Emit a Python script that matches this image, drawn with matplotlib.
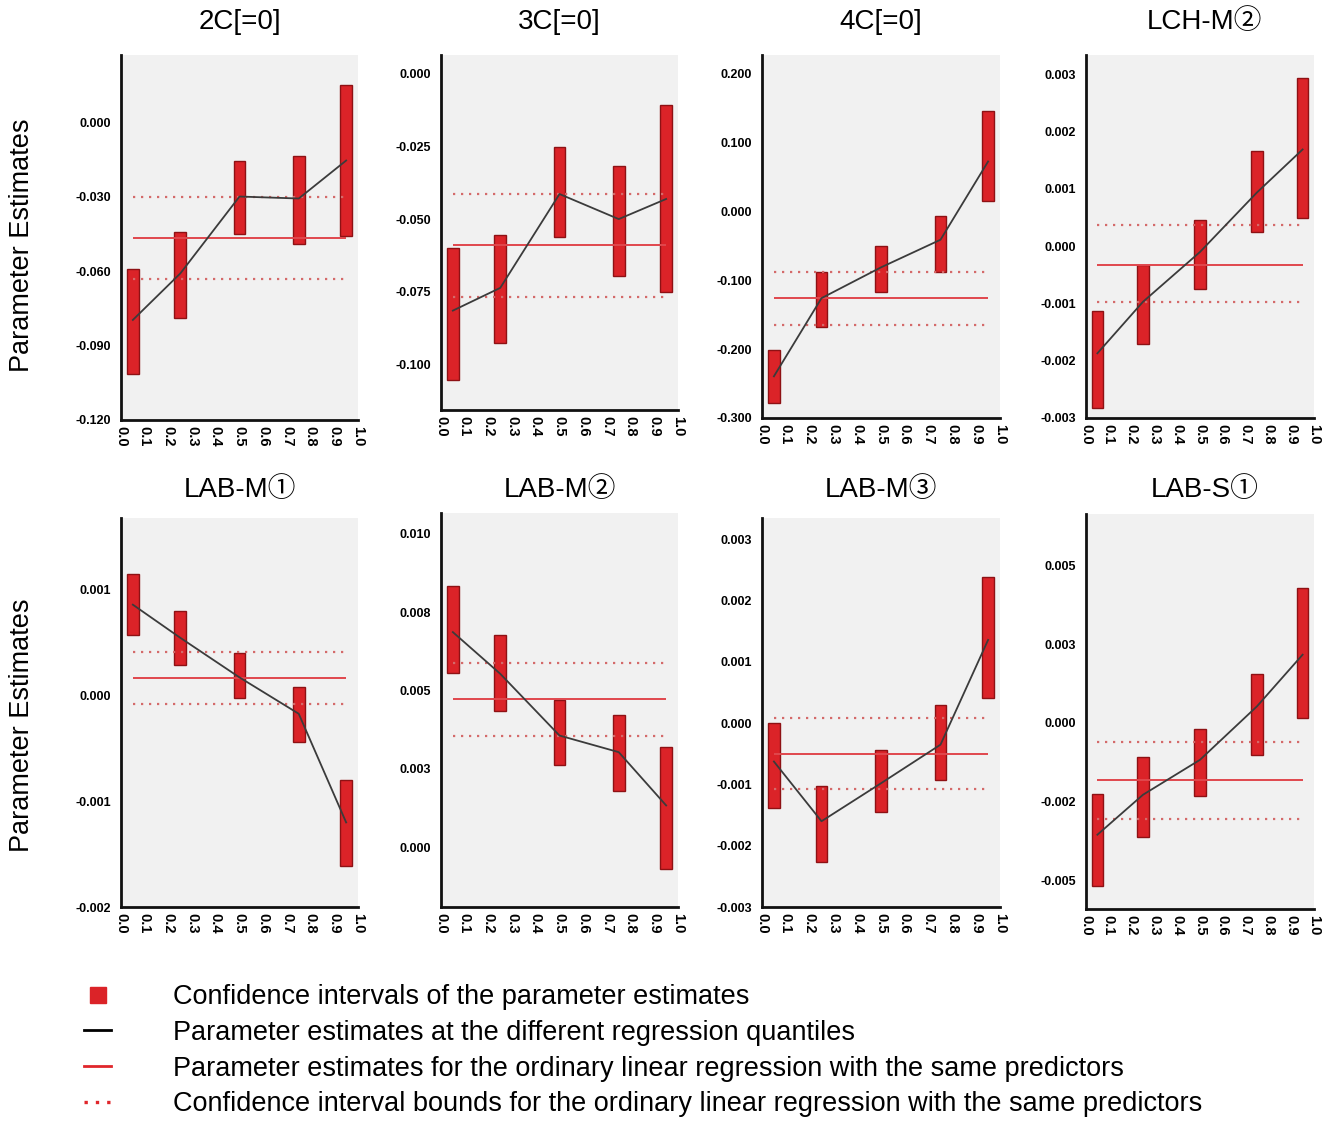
import matplotlib
matplotlib.use("Agg")
import matplotlib.pyplot as plt
from matplotlib.lines import Line2D
import numpy as np

plt.rcParams['font.family'] = ['Liberation Sans', 'Noto Sans CJK SC', 'DejaVu Sans']

# Regression quantiles at which the estimates were computed
quantiles = [0.05, 0.25, 0.50, 0.75, 0.95]

titles = ["2C[=0]", "3C[=0]", "4C[=0]", "LCH-M②",
          "LAB-M①", "LAB-M②", "LAB-M③", "LAB-S①"]

# Quantile regression estimates
est_2c = [-0.0797, -0.0610, -0.0300, -0.0308, -0.0155]
est_3c = [-0.0814, -0.0736, -0.0414, -0.0500, -0.0431]
est_4c = [-0.2395, -0.1260, -0.0813, -0.0412, 0.0724]
est_lchm2 = [-0.00187, -0.00097, -0.00010, 0.00094, 0.00169]
est_labm1 = [0.00086, 0.000547, 0.000172, -0.000172, -0.00120]
est_labm2 = [0.00686, 0.00553, 0.00356, 0.00303, 0.00133]
est_labm3 = [-0.000625, -0.00160, -0.00098, -0.00035, 0.00136]
est_labs1 = [-0.00355, -0.00228, -0.00117, 0.00053, 0.00217]

# Lower confidence bounds of the quantile estimates
lo_2c = [-0.1014, -0.0788, -0.0450, -0.0493, -0.0459]
lo_3c = [-0.1052, -0.0925, -0.0563, -0.0696, -0.0750]
lo_4c = [-0.2780, -0.1680, -0.1170, -0.0880, 0.0144]
lo_lchm2 = [-0.00283, -0.00171, -0.00075, 0.00024, 0.00049]
lo_labm1 = [0.000569, 0.000288, -0.000025, -0.000438, -0.001616]
lo_labm2 = [0.00556, 0.00434, 0.00263, 0.00178, -0.00071]
lo_labm3 = [-0.00139, -0.00226, -0.00145, -0.000935, 0.000418]
lo_labs1 = [-0.00517, -0.00363, -0.00233, -0.00103, 0.00016]

# Upper confidence bounds of the quantile estimates
hi_2c = [-0.0592, -0.0443, -0.0155, -0.0135, 0.0149]
hi_3c = [-0.0600, -0.0555, -0.0253, -0.0317, -0.0107]
hi_4c = [-0.2007, -0.0880, -0.0499, -0.0073, 0.1450]
hi_lchm2 = [-0.00113, -0.00032, 0.00045, 0.00167, 0.00293]
hi_labm1 = [0.001147, 0.000797, 0.000406, 0.000078, -0.000797]
hi_labm2 = [0.00833, 0.00678, 0.00468, 0.00420, 0.00319]
hi_labm3 = [0.00000, -0.00102, -0.000435, 0.00030, 0.00239]
hi_labs1 = [-0.00226, -0.00108, -0.00018, 0.00156, 0.00429]

# Ordinary least squares estimate and its confidence bounds
ols_est = [-0.0466, -0.0589, -0.1258, -0.00032, 0.000166, 0.00471, -0.00050, -0.00182]
ols_lo = [-0.0631, -0.0767, -0.1644, -0.00098, -0.000078, 0.00354, -0.00107, -0.00304]
ols_hi = [-0.0300, -0.0414, -0.0880, 0.00037, 0.000413, 0.00587, 0.0000924, -0.00060]

# Y-axis ticks and their printed labels
yticks = [
    [0.000, -0.030, -0.060, -0.090, -0.120],
    [0.000, -0.025, -0.050, -0.075, -0.100],
    [0.200, 0.100, 0.000, -0.100, -0.200, -0.300],
    [0.003, 0.002, 0.001, 0.000, -0.001, -0.002, -0.003],
    [0.001, 0.000, -0.001, -0.002],
    [0.010, 0.0075, 0.005, 0.0025, 0.000],
    [0.003, 0.002, 0.001, 0.000, -0.001, -0.002, -0.003],
    [0.005, 0.0025, 0.000, -0.0025, -0.005],
]
ytick_labels = [
    ["0.000", "-0.030", "-0.060", "-0.090", "-0.120"],
    ["0.000", "-0.025", "-0.050", "-0.075", "-0.100"],
    ["0.200", "0.100", "0.000", "-0.100", "-0.200", "-0.300"],
    ["0.003", "0.002", "0.001", "0.000", "-0.001", "-0.002", "-0.003"],
    ["0.001", "0.000", "-0.001", "-0.002"],
    ["0.010", "0.008", "0.005", "0.003", "0.000"],
    ["0.003", "0.002", "0.001", "0.000", "-0.001", "-0.002", "-0.003"],
    ["0.005", "0.003", "0.000", "-0.002", "-0.005"],
]
ylims = [(-0.120, 0.027), (-0.1155, 0.0063), (-0.300, 0.227), (-0.003, 0.00334),
         (-0.002, 0.00168), (-0.00191, 0.01066), (-0.003, 0.00335), (-0.00591, 0.00664)]

xticks = [round(0.1 * i, 1) for i in range(11)]
xtick_labels = ["%.1f" % v for v in xticks]

estimates = [est_2c, est_3c, est_4c, est_lchm2, est_labm1, est_labm2, est_labm3, est_labs1]
lows = [lo_2c, lo_3c, lo_4c, lo_lchm2, lo_labm1, lo_labm2, lo_labm3, lo_labs1]
highs = [hi_2c, hi_3c, hi_4c, hi_lchm2, hi_labm1, hi_labm2, hi_labm3, hi_labs1]

W, H = 1323, 1123
fig = plt.figure(figsize=(W / 100, H / 100), dpi=100)

# Panel boxes in pixels: left, top, right, bottom
boxes = [
    (121, 55, 358, 420), (441, 55, 678, 410), (762, 55, 1000, 418), (1086, 55, 1314, 418),
    (121, 518, 358, 907), (441, 513, 678, 907), (762, 518, 1000, 907), (1086, 514, 1314, 909),
]
title_rows = [22, 22, 22, 22, 490, 490, 490, 490]

BAR_FACE = "#db2328"
BAR_EDGE = "#8e1114"
LINE_COL = "#3b3b3b"
OLS_COL = "#e0474d"
OLS_DOT = "#d46a6a"

for i, (l, t, r, b) in enumerate(boxes):
    ax = fig.add_axes([l / W, 1 - b / H, (r - l) / W, (b - t) / H])
    ax.set_facecolor("#f1f1f1")
    q = np.array(quantiles)
    lo = np.array(lows[i])
    hi = np.array(highs[i])
    ax.bar(q, hi - lo, bottom=lo, width=0.05, color=BAR_FACE, edgecolor=BAR_EDGE,
           linewidth=1.0, zorder=2)
    ax.hlines(ols_est[i], q[0], q[-1], color=OLS_COL, lw=1.4, zorder=3)
    ax.hlines([ols_lo[i], ols_hi[i]], q[0], q[-1], color=OLS_DOT, lw=1.6,
              linestyles=[(0, (1.0, 2.6))], zorder=3)
    ax.plot(q, estimates[i], color=LINE_COL, lw=1.3, zorder=4)

    ax.set_xlim(0, 1)
    ax.set_ylim(*ylims[i])
    ax.set_xticks(xticks)
    ax.set_xticklabels(xtick_labels, rotation=270, fontsize=10.5, fontweight="bold")
    ax.set_yticks(yticks[i])
    ax.set_yticklabels(ytick_labels[i], fontsize=9, fontweight="bold")
    ax.tick_params(axis="both", length=0)
    ax.tick_params(axis="y", pad=7)
    ax.tick_params(axis="x", pad=4)
    for s in ("top", "right"):
        ax.spines[s].set_visible(False)
    for s in ("left", "bottom"):
        ax.spines[s].set_linewidth(2.0)
        ax.spines[s].set_color("#111111")
    fig.text((l + 118.5) / W, 1 - title_rows[i] / H, titles[i], fontsize=20,
             ha="center", va="center")

# Row labels
for yc in (245, 725):
    fig.text(22 / W, 1 - yc / H, "Parameter Estimates", rotation=90, fontsize=19.5,
             ha="center", va="center")

handles = [
    Line2D([], [], marker="s", markersize=12, color=BAR_FACE, markeredgecolor=BAR_FACE,
           linestyle="none"),
    Line2D([], [], color="black", lw=2.0),
    Line2D([], [], color="#e0262b", lw=2.0),
    Line2D([], [], color="#e0262b", lw=2.4, linestyle=(0, (1.0, 2.4))),
]
labels = [
    "Confidence intervals of the parameter estimates",
    "Parameter estimates at the different regression quantiles",
    "Parameter estimates for the ordinary linear regression with the same predictors",
    "Confidence interval bounds for the ordinary linear regression with the same predictors",
]
fig.legend(handles, labels, loc="upper left", bbox_to_anchor=(84 / W, 1 - 984 / H),
           frameon=False, fontsize=19.5, handlelength=1.0, handletextpad=2.3,
           labelspacing=0.36, borderpad=0, borderaxespad=0)

fig.savefig("out.png", dpi=100)
